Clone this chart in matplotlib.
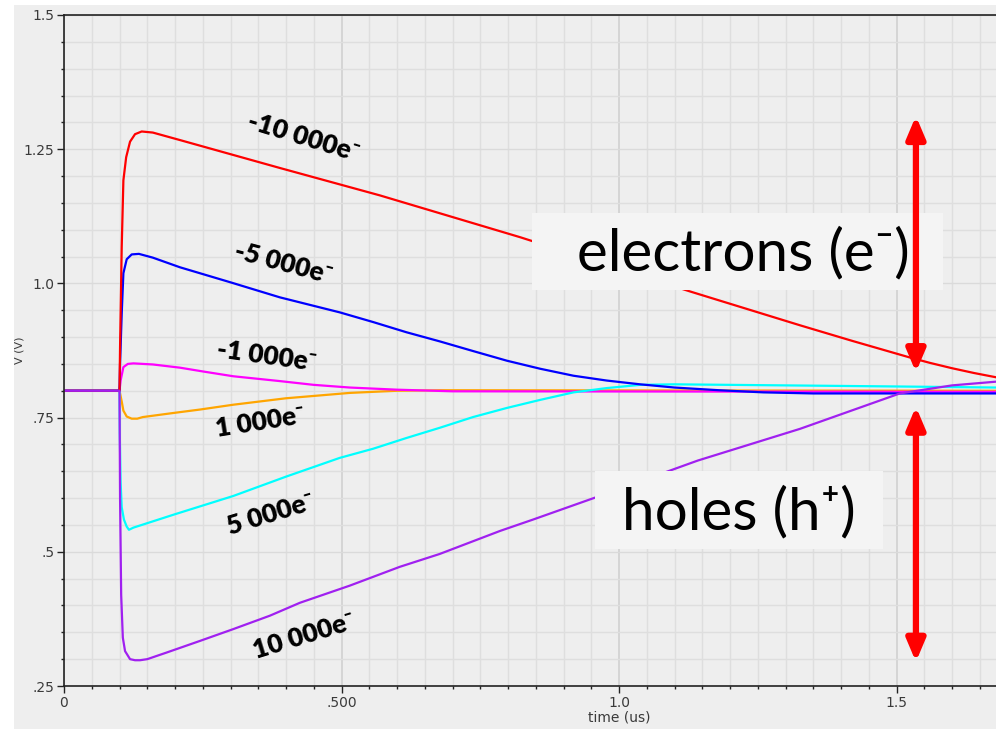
import matplotlib
matplotlib.use("agg")
import matplotlib.pyplot as plt
from matplotlib.patches import Rectangle
from matplotlib.ticker import FixedLocator, MultipleLocator

# transient output of the preamp for injected charge, time in us, volts
t_e10k = [0, 0.1, 0.101, 0.104, 0.107, 0.112, 0.119, 0.128, 0.14, 0.16, 0.209,
          0.389, 0.569, 0.822, 1.128, 1.326, 1.42, 1.524, 1.56, 1.6, 1.64, 1.68]
v_e10k = [0.8, 0.8, 0.881, 1.068, 1.192, 1.235, 1.264, 1.278, 1.283, 1.281, 1.267,
          1.215, 1.164, 1.086, 0.985, 0.922, 0.893, 0.862, 0.852, 0.842, 0.833, 0.825]

t_e5k = [0, 0.1, 0.101, 0.104, 0.107, 0.113, 0.122, 0.135, 0.16, 0.209, 0.3,
         0.389, 0.497, 0.557, 0.617, 0.677, 0.737, 0.798, 0.858, 0.918, 0.978,
         1.038, 1.1, 1.18, 1.26, 1.35, 1.68]
v_e5k = [0.8, 0.8, 0.85, 0.944, 1.019, 1.045, 1.054, 1.055, 1.048, 1.03, 1.002,
         0.974, 0.946, 0.928, 0.909, 0.892, 0.874, 0.856, 0.841, 0.828, 0.819,
         0.812, 0.806, 0.801, 0.797, 0.795, 0.795]

t_e1k = [0, 0.1, 0.102, 0.107, 0.115, 0.125, 0.16, 0.209, 0.25, 0.305, 0.389,
         0.45, 0.515, 0.6, 0.7, 1.68]
v_e1k = [0.8, 0.8, 0.819, 0.844, 0.85, 0.851, 0.849, 0.843, 0.836, 0.827, 0.818,
         0.811, 0.806, 0.802, 0.799, 0.798]

t_h1k = [0, 0.1, 0.101, 0.104, 0.107, 0.113, 0.122, 0.132, 0.142, 0.2, 0.245,
         0.305, 0.4, 0.515, 0.6, 0.68, 1.68]
v_h1k = [0.8, 0.8, 0.795, 0.78, 0.763, 0.752, 0.748, 0.748, 0.751, 0.759, 0.765,
         0.774, 0.786, 0.796, 0.8, 0.801, 0.8]

t_h5k = [0, 0.1, 0.1005, 0.102, 0.104, 0.108, 0.113, 0.117, 0.125, 0.2, 0.305,
         0.4, 0.497, 0.557, 0.617, 0.677, 0.737, 0.798, 0.858, 0.918, 0.978,
         1.038, 1.1, 1.3, 1.5, 1.68]
v_h5k = [0.8, 0.8, 0.72, 0.63, 0.583, 0.56, 0.547, 0.541, 0.545, 0.57, 0.604,
         0.64, 0.675, 0.692, 0.712, 0.731, 0.751, 0.768, 0.783, 0.797, 0.805,
         0.811, 0.812, 0.81, 0.808, 0.806]

t_h10k = [0, 0.1, 0.101, 0.103, 0.106, 0.11, 0.119, 0.128, 0.137, 0.15, 0.184,
          0.245, 0.305, 0.371, 0.425, 0.515, 0.605, 0.677, 0.786, 0.845, 0.957,
          1.142, 1.326, 1.506, 1.6, 1.68]
v_h10k = [0.8, 0.8, 0.6, 0.42, 0.34, 0.315, 0.30, 0.298, 0.298, 0.30, 0.312,
          0.334, 0.356, 0.381, 0.405, 0.437, 0.472, 0.496, 0.539, 0.56, 0.601,
          0.67, 0.729, 0.795, 0.81, 0.817]

xticks = [0, 0.5, 1.0, 1.5]
xtick_labels = ['0', '.500', '1.0', '1.5']
yticks = [0.25, 0.5, 0.75, 1.0, 1.25, 1.5]
ytick_labels = ['.25', '.5', '.75', '1.0', '1.25', '1.5']

BG = '#eeeeee'
W, H = 996, 729

fig = plt.figure(figsize=(W / 100, H / 100), dpi=100, facecolor='white')
# grey panel of the waveform viewer
fig.patches.append(Rectangle((14 / W, 0), 1 - 14 / W, 1 - 5 / H,
                             transform=fig.transFigure, facecolor=BG,
                             edgecolor='none', zorder=-10))

ax = fig.add_axes([64 / W, (H - 686) / H, 1 - 64 / W, (686 - 15) / H])
ax.set_facecolor(BG)
ax.set_xlim(0, (W - 64) / 555)
ax.set_ylim(0.25, 1.5)

ax.xaxis.set_major_locator(FixedLocator(xticks))
ax.set_xticklabels(xtick_labels)
ax.yaxis.set_major_locator(FixedLocator(yticks))
ax.set_yticklabels(ytick_labels)
ax.xaxis.set_minor_locator(MultipleLocator(0.05))
ax.yaxis.set_minor_locator(MultipleLocator(0.05))
ax.tick_params(which='major', length=5, width=1, color='#222222',
               labelsize=10, labelcolor='#3a3a3a', pad=2)
ax.tick_params(which='minor', length=2, width=1, color='#222222')
ax.grid(which='minor', color='#dedede', lw=1)
ax.grid(which='major', axis='x', color='#d0d0d0', lw=1.2)
ax.grid(which='major', axis='y', color='#dadada', lw=1)
ax.set_axisbelow(True)
for side in ['left', 'bottom', 'top']:
    ax.spines[side].set_color('#222222')
    ax.spines[side].set_linewidth(1.2)
ax.spines['right'].set_visible(False)

ax.set_xlabel('time (us)', fontsize=10, color='#3a3a3a', labelpad=0)
ax.xaxis.set_label_coords((619 - 64) / (W - 64), -0.037)
ax.set_ylabel('V (V)', fontsize=8, color='#3a3a3a')
ax.yaxis.set_label_coords(-0.042, 0.5)

lw = 1.6
ax.plot(t_h1k, v_h1k, color='#ffa500', lw=lw)
ax.plot(t_e1k, v_e1k, color='#ff00ff', lw=lw)
ax.plot(t_h5k, v_h5k, color='#00ffff', lw=lw)
ax.plot(t_e5k, v_e5k, color='#0000ff', lw=lw)
ax.plot(t_e10k, v_e10k, color='#ff0000', lw=lw)
ax.plot(t_h10k, v_h10k, color='#a020f0', lw=lw)

lbl = dict(fontsize=19, fontweight='heavy', color='black',
           family=['Lato', 'DejaVu Sans'], ha='center', va='center',
           rotation_mode='anchor')
ax.text(0.432, 1.272, '-10 000e⁻', rotation=-17, **lbl)
ax.text(0.395, 1.037, '-5 000e⁻', rotation=-15, **lbl)
ax.text(0.366, 0.864, '-1 000e⁻', rotation=-8, **lbl)
ax.text(0.353, 0.742, '1 000e⁻', rotation=9, **lbl)
ax.text(0.373, 0.571, '5 000e⁻', rotation=17, **lbl)
ax.text(0.432, 0.343, '10 000e⁻', rotation=17, **lbl)

# annotation boxes
ax.add_patch(Rectangle((0.843, 0.987), 0.741, 0.1436, facecolor='#f4f4f4',
                       edgecolor='none', zorder=4))
ax.add_patch(Rectangle((0.957, 0.506), 0.519, 0.145, facecolor='#f4f4f4',
                       edgecolor='none', zorder=4))
box_txt = dict(fontsize=42, color='black', family=['Lato', 'DejaVu Sans'],
               ha='center', va='center', zorder=5)
ax.text(1.224, 1.055, 'electrons (e⁻)', **box_txt)
ax.text(1.216, 0.574, 'holes (h⁺)', **box_txt)

arrow = dict(arrowstyle='<|-|>,head_length=1.3,head_width=0.55', color='#ff0000',
             lw=4.5, shrinkA=0, shrinkB=0)
ax.annotate('', xy=(1.535, 1.312), xytext=(1.535, 0.8345),
            arrowprops=arrow, zorder=6)
ax.annotate('', xy=(1.535, 0.7705), xytext=(1.535, 0.295),
            arrowprops=arrow, zorder=6)

fig.savefig('out.png', dpi=100, facecolor=fig.get_facecolor())
